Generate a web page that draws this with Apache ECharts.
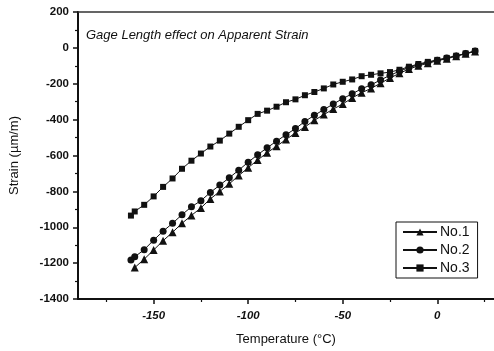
<!DOCTYPE html>
<html>
<head>
<meta charset="utf-8">
<script src="https://cdn.jsdelivr.net/npm/echarts@6/dist/echarts.min.js"></script>
<style>html,body{margin:0;padding:0;background:#fff;}#c{width:494px;height:351px;}</style>
</head>
<body>
<div id="c"></div>
<script>
var titleText = 'Gage Length effect on Apparent Strain';
var xName = 'Temperature (°C)';
var yName = 'Strain (µm/m)';
var seriesNames = ['No.1', 'No.2', 'No.3'];
var xTickLabels = [-150, -100, -50, 0];
var xMinorTicks = [-175, -125, -75, -25, 25];

var tempNo1 = [-160,-155,-150,-145,-140,-135,-130,-125,-120,-115,-110,-105,-100,-95,-90,-85,-80,-75,-70,-65,-60,-55,-50,-45,-40,-35,-30,-25,-20,-15,-10,-5,0,5,10,15,20];
var strainNo1 = [-1225,-1178,-1127,-1075,-1028,-978,-934,-892,-842,-800,-758,-712,-668,-625,-585,-548,-511,-474,-441,-404,-372,-341,-313,-279,-250,-226,-197,-168,-142,-118,-100,-86,-72,-60,-46,-33,-20];

var tempNo2 = [-162,-160,-155,-150,-145,-140,-135,-130,-125,-120,-115,-110,-105,-100,-95,-90,-85,-80,-75,-70,-65,-60,-55,-50,-45,-40,-35,-30,-25,-20,-15,-10,-5,0,5,10,15,20];
var strainNo2 = [-1182,-1165,-1125,-1072,-1022,-978,-930,-886,-852,-806,-765,-724,-682,-637,-596,-557,-520,-484,-450,-410,-376,-344,-313,-283,-256,-228,-206,-179,-153,-130,-110,-94,-81,-69,-57,-45,-32,-18];

var tempNo3 = [-162,-160,-155,-150,-145,-140,-135,-130,-125,-120,-115,-110,-105,-100,-95,-90,-85,-80,-75,-70,-65,-60,-55,-50,-45,-40,-35,-30,-25,-20,-15,-10,-5,0,5,10,15,20];
var strainNo3 = [-935,-912,-875,-828,-775,-728,-674,-629,-589,-550,-517,-478,-440,-403,-368,-350,-328,-303,-287,-264,-246,-226,-204,-189,-176,-158,-150,-142,-135,-122,-105,-90,-78,-67,-56,-44,-31,-17];

function pairs(xs, ys) { return xs.map(function (x, i) { return [x, ys[i]]; }); }

var FONT = '"Liberation Sans", Arial, sans-serif';
var chart = echarts.init(document.getElementById('c'), null, {renderer: 'canvas'});

function mkSeries(name, xs, ys, symbol, size) {
  return {
    name: name, type: 'line', data: pairs(xs, ys),
    xAxisIndex: 0, yAxisIndex: 0,
    symbol: symbol, symbolSize: size,
    itemStyle: {color: '#111'},
    lineStyle: {color: '#111', width: 1},
    animation: false
  };
}

chart.setOption({
  animation: false,
  backgroundColor: '#fff',
  title: {
    text: titleText, left: 81, top: 24,
    textStyle: {fontFamily: FONT, fontSize: 13, fontStyle: 'italic', fontWeight: 'normal', color: '#111'}
  },
  grid: {left: 76, top: 12, width: 422.4, height: 288, show: false},
  legend: {
    orient: 'vertical', left: 396, top: 222,
    data: seriesNames,
    itemWidth: 34, itemHeight: 9, itemGap: 4,
    padding: [3, 8, 3, 6],
    borderColor: '#111', borderWidth: 1,
    textStyle: {fontFamily: FONT, fontSize: 14, color: '#111', padding: [0, 0, 0, -2]},
    backgroundColor: '#fff'
  },
  xAxis: [{
    type: 'value', min: -190, max: 30, position: 'bottom',
    name: xName, nameLocation: 'middle', nameGap: 34,
    nameTextStyle: {fontFamily: FONT, fontSize: 13, color: '#111'},
    axisLine: {show: true, onZero: false, lineStyle: {color: '#111', width: 2}},
    axisTick: {show: true, inside: false, length: 5, lineStyle: {color: '#111', width: 1.5}, customValues: xTickLabels},
    axisLabel: {show: true, customValues: xTickLabels, margin: 11, fontFamily: FONT, fontSize: 11.5, fontStyle: 'italic', fontWeight: 'bold', color: '#111'},
    splitLine: {show: false}
  }, {
    type: 'value', min: -190, max: 30, position: 'bottom',
    axisLine: {show: false, onZero: false},
    axisTick: {show: true, length: 3, lineStyle: {color: '#111', width: 1.2}, customValues: xMinorTicks},
    axisLabel: {show: false},
    splitLine: {show: false}
  }, {
    type: 'value', min: -190, max: 30, position: 'top',
    axisLine: {show: true, onZero: false, lineStyle: {color: '#333', width: 1.5}},
    axisTick: {show: false},
    axisLabel: {show: false},
    splitLine: {show: false}
  }],
  yAxis: {
    type: 'value', min: -1400, max: 200, interval: 200,
    name: yName, nameLocation: 'middle', nameGap: 57, nameRotate: 90,
    nameTextStyle: {fontFamily: FONT, fontSize: 13, color: '#111'},
    axisLine: {show: true, onZero: false, lineStyle: {color: '#111', width: 2}},
    axisTick: {show: true, length: 5, lineStyle: {color: '#111', width: 1.5}},
    minorTick: {show: true, splitNumber: 2, length: 3, lineStyle: {color: '#111', width: 1.2}},
    axisLabel: {margin: 9, fontFamily: FONT, fontSize: 11.5, fontWeight: 'bold', color: '#111',
      formatter: function (v) { return String(v); }},
    splitLine: {show: false}
  },
  series: [
    mkSeries(seriesNames[0], tempNo1, strainNo1, 'triangle', 8),
    mkSeries(seriesNames[1], tempNo2, strainNo2, 'circle', 7),
    mkSeries(seriesNames[2], tempNo3, strainNo3, 'rect', 6)
  ]
});
</script>
</body>
</html>
